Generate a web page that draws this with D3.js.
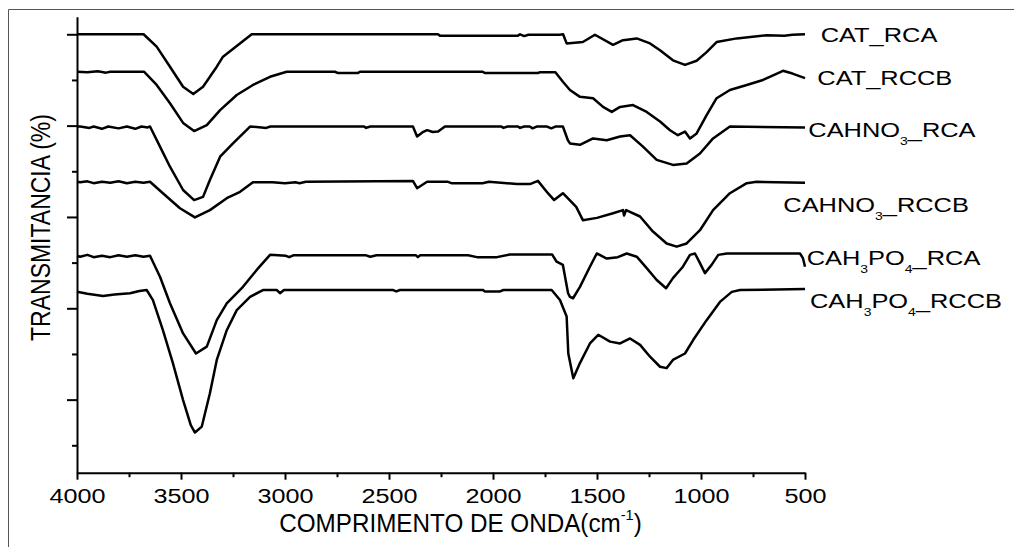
<!DOCTYPE html>
<html>
<head>
<meta charset="utf-8">
<script src="https://cdn.jsdelivr.net/npm/d3@7"></script>
<style>
  body { margin: 0; background: #fff; }
  svg { display: block; font-family: "Liberation Sans", Arial, sans-serif; }
</style>
</head>
<body>
<script>

// FTIR spectra, [wavenumber (cm-1), transmittance with vertical offset]
var catRca = [[4000,90.0],[3680,90.0],[3617,87.3],[3553,82.9],[3490,78.5],[3441,76.9],[3394,78.5],[3328,82.9],[3298,85.1],[3160,90.0],[2265,90.0],[2255,89.7],[1880,89.7],[1870,90.0],[1850,89.6],[1830,89.9],[1680,89.9],[1663,90.0],[1646,88.0],[1568,88.3],[1510,89.9],[1423,87.7],[1375,88.7],[1309,89.1],[1245,88.0],[1197,86.5],[1135,84.3],[1077,83.3],[1021,84.2],[973,86.1],[925,88.3],[828,89.1],[684,89.8],[600,89.7],[560,89.9],[500,90.0]];

var catRccb = [[4000,81.8],[3950,81.7],[3900,81.9],[3860,81.6],[3840,81.8],[3678,81.8],[3617,78.9],[3553,74.9],[3490,70.6],[3437,68.8],[3376,70.1],[3312,73.4],[3232,76.7],[3154,78.9],[3072,80.7],[2992,81.8],[2760,81.8],[2745,81.5],[2650,81.5],[2640,81.8],[2050,81.8],[2038,81.5],[1784,81.5],[1774,81.7],[1700,81.7],[1664,79.6],[1630,77.8],[1582,76.3],[1519,76.0],[1471,74.1],[1429,73.0],[1389,74.1],[1327,74.5],[1261,73.0],[1197,70.9],[1149,69.0],[1111,67.9],[1077,68.7],[1053,67.2],[1021,68.3],[973,72.3],[925,76.0],[861,77.8],[780,78.9],[702,80.0],[640,81.3],[606,82.0],[560,81.4],[500,80.4]];

var cahno3Rca = [[4000,69.8],[3985,69.8],[3940,69.5],[3920,69.8],[3880,69.3],[3850,69.8],[3800,69.4],[3760,69.8],[3720,69.3],[3690,69.8],[3660,69.6],[3649,69.8],[3601,65.4],[3553,61.0],[3490,55.9],[3437,53.7],[3394,54.4],[3361,58.1],[3312,63.2],[3250,66.1],[3168,69.8],[3090,69.5],[3070,69.8],[2620,69.8],[2610,69.5],[2590,69.8],[2385,69.8],[2365,67.6],[2340,68.5],[2317,69.0],[2290,68.6],[2264,68.7],[2231,69.8],[1960,69.8],[1950,69.5],[1930,69.8],[1880,69.8],[1870,69.5],[1850,69.8],[1823,69.8],[1810,69.4],[1790,69.8],[1740,69.8],[1720,69.4],[1700,69.8],[1664,69.8],[1640,66.8],[1630,66.1],[1582,65.8],[1519,67.2],[1453,66.8],[1389,67.6],[1341,67.9],[1279,65.4],[1213,62.5],[1135,61.4],[1069,61.7],[1005,63.9],[942,67.2],[861,69.8],[500,69.6]];

var cahno3Rccb = [[4000,57.7],[3985,57.6],[3950,57.8],[3920,57.4],[3880,57.7],[3840,57.5],[3800,57.8],[3760,57.4],[3720,57.7],[3680,57.5],[3649,57.7],[3587,55.2],[3505,51.9],[3433,49.9],[3361,51.5],[3280,54.1],[3216,55.5],[3154,57.6],[3060,57.6],[3000,57.4],[2950,57.6],[2930,57.4],[2900,57.7],[2385,57.9],[2365,56.3],[2317,57.7],[2216,57.7],[2200,57.4],[2050,57.4],[2020,57.7],[1885,57.2],[1822,57.2],[1784,57.9],[1736,55.2],[1706,53.7],[1664,55.2],[1600,52.2],[1568,49.3],[1500,49.8],[1423,50.8],[1375,51.5],[1370,50.3],[1360,51.5],[1293,50.1],[1231,46.8],[1165,44.2],[1117,43.5],[1069,44.2],[1005,47.1],[942,51.5],[861,55.2],[780,57.4],[732,57.7],[500,57.5]];

var cah3po4Rca = [[4000,41.5],[3985,41.3],[3950,41.7],[3920,41.2],[3880,41.5],[3840,41.2],[3800,41.6],[3760,41.3],[3720,41.6],[3680,41.3],[3649,41.5],[3601,36.9],[3553,31.1],[3490,24.5],[3428,20.1],[3376,21.6],[3328,27.4],[3280,31.1],[3202,34.7],[3136,38.4],[3072,41.7],[2995,41.5],[2980,41.2],[2960,41.6],[2610,41.6],[2590,41.3],[2560,41.6],[2370,41.6],[2361,41.2],[2350,41.6],[2120,41.6],[2077,41.2],[1981,41.2],[1918,41.8],[1716,41.8],[1694,40.2],[1664,39.5],[1639,33.3],[1630,32.5],[1615,32.2],[1582,34.7],[1534,39.1],[1501,42.0],[1453,40.9],[1400,41.2],[1357,42.0],[1309,41.3],[1261,38.8],[1213,36.2],[1168,34.4],[1135,36.6],[1087,39.1],[1053,41.7],[1029,42.0],[1005,39.9],[981,37.7],[949,39.5],[917,41.7],[876,42.0],[524,42.0],[510,41.0],[500,39.1]];

var cah3po4Rccb = [[4000,33.6],[3950,33.2],[3875,32.7],[3820,33.0],[3745,33.3],[3700,33.8],[3665,34.0],[3635,31.8],[3587,25.2],[3539,18.0],[3490,9.9],[3453,4.4],[3433,2.8],[3400,4.1],[3361,11.4],[3328,18.7],[3280,25.2],[3232,29.6],[3168,32.5],[3106,34.0],[3040,34.0],[3024,33.3],[3005,34.0],[2480,34.0],[2465,33.7],[2447,34.0],[2048,34.0],[2040,33.7],[1966,33.7],[1950,34.0],[1718,34.0],[1678,31.8],[1646,28.2],[1638,20.1],[1614,14.7],[1582,18.0],[1534,22.3],[1494,24.2],[1437,22.7],[1389,22.3],[1341,23.4],[1293,22.0],[1245,19.4],[1197,17.2],[1165,16.9],[1135,18.7],[1077,20.1],[1037,23.1],[973,27.4],[909,31.4],[852,33.6],[812,34.0],[500,34.2]];

var seriesNames = ["CAT_RCA", "CAT_RCCB", "CAHNO3_RCA", "CAHNO3_RCCB", "CAH3PO4_RCA", "CAH3PO4_RCCB"];

var xMajorTicks = [4000, 3500, 3000, 2500, 2000, 1500, 1000, 500];
var xMinorTicks = [3750, 3250, 2750, 2250, 1750, 1250, 750];
var yMajorTicks = [10, 30, 50, 70, 90];
var yMinorTicks = [0, 20, 40, 60, 80];

var allSeries = [catRca, catRccb, cahno3Rca, cahno3Rccb, cah3po4Rca, cah3po4Rccb];

// layout
var width = 1014;
var height = 547;
var margin = {top: 16.7, left: 77, right: 209, bottom: 74.3};

// label placement (left x, baseline y), pixels
var labelX = [820.7, 817.3, 808.3, 783.3, 806.7, 810];
var labelY = [41.7, 85, 136.7, 211.7, 265, 308.3];

var svg = d3.select("body").append("svg")
    .attr("width", width)
    .attr("height", height);

// outer frame (only top and left edges visible)
svg.append("line").attr("x1", 8.5).attr("y1", 9.5).attr("x2", width).attr("y2", 9.5)
    .attr("stroke", "#555").attr("stroke-width", 1);
svg.append("line").attr("x1", 8.5).attr("y1", 9.5).attr("x2", 8.5).attr("y2", height)
    .attr("stroke", "#555").attr("stroke-width", 1);

var xScale = d3.scaleLinear()
    .domain([4000, 500])
    .range([margin.left, width - margin.right]);

var yScale = d3.scaleLinear()
    .domain([-6, 93.85])
    .range([height - margin.bottom, margin.top]);

var line = d3.line()
    .x(function(d){ return xScale(d[0]); })
    .y(function(d){ return yScale(d[1]); });

svg.selectAll("path.spec")
    .data(allSeries)
    .enter()
    .append("path")
        .attr("class", "spec")
        .attr("d", line)
        .attr("fill", "none")
        .attr("stroke", "#000")
        .attr("stroke-width", 2.5)
        .attr("stroke-linejoin", "round");

// x axis
var xAxisY = height - margin.bottom;
var gx = svg.append("g")
    .attr("transform", "translate(0," + xAxisY + ")")
    .call(d3.axisBottom(xScale).tickValues(xMajorTicks).tickSize(7).tickSizeOuter(0).tickFormat(d3.format("d")));
gx.select(".domain").attr("stroke-width", 2);
gx.selectAll(".tick line").attr("stroke-width", 2);
gx.selectAll(".tick text")
    .attr("y", 30.5)
    .attr("dy", null)
    .attr("font-size", 21)
    .attr("font-family", "Liberation Sans, Arial, sans-serif")
    .attr("fill", "#000")
    .attr("transform", "scale(1.2,1)");

var gxMinor = svg.append("g")
    .attr("transform", "translate(0," + xAxisY + ")")
    .call(d3.axisBottom(xScale).tickValues(xMinorTicks).tickSize(4.5).tickFormat(""));
gxMinor.select(".domain").remove();
gxMinor.selectAll(".tick line").attr("stroke-width", 2);

// y axis (no labels)
var gy = svg.append("g")
    .attr("transform", "translate(" + margin.left + ",0)")
    .call(d3.axisLeft(yScale).tickValues(yMajorTicks).tickSize(10).tickSizeOuter(0).tickFormat(""));
gy.select(".domain").attr("stroke-width", 2);
gy.selectAll(".tick line").attr("stroke-width", 2);

var gyMinor = svg.append("g")
    .attr("transform", "translate(" + margin.left + ",0)")
    .call(d3.axisLeft(yScale).tickValues(yMinorTicks).tickSize(5).tickFormat(""));
gyMinor.select(".domain").remove();
gyMinor.selectAll(".tick line").attr("stroke-width", 2);

// series labels, digits drawn as subscripts
seriesNames.forEach(function(name, i){
    var g = svg.append("g")
        .attr("transform", "translate(" + labelX[i] + "," + labelY[i] + ") scale(1.27,1)");
    var t = g.append("text")
        .attr("x", 0).attr("y", 0)
        .attr("font-size", 20)
        .attr("fill", "#000");
    var parts = name.split(/(\d)/).filter(function(p){ return p !== ""; });
    var shifted = false;
    parts.forEach(function(p){
        var isSub = /^\d$/.test(p);
        var span = t.append("tspan").text(p);
        if (isSub) {
            span.attr("font-size", 11).attr("dy", shifted ? 0 : 8);
            shifted = true;
        } else {
            if (shifted) span.attr("dy", -8);
            shifted = false;
        }
    });
});

// axis titles
var xt = svg.append("g")
    .attr("transform", "translate(460.5,532) scale(0.97,1)")
    .append("text")
        .attr("text-anchor", "middle")
        .attr("font-size", 25)
        .attr("fill", "#000");
xt.append("tspan").text("COMPRIMENTO DE ONDA(cm");
xt.append("tspan").attr("font-size", 15).attr("dy", -12).text("-1");
xt.append("tspan").attr("dy", 12).text(")");

svg.append("g")
    .attr("transform", "translate(50,227.5) scale(1.21,1) rotate(-90)")
    .append("text")
        .attr("text-anchor", "middle")
        .attr("font-size", 23)
        .attr("fill", "#000")
        .text("TRANSMITANCIA (%)");

</script>
</body>
</html>
